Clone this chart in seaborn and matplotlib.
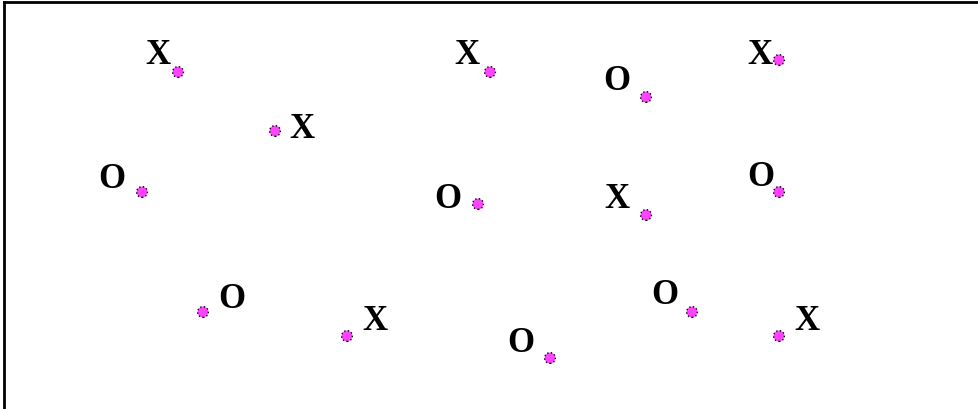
"""
Scatter of X/O labelled points on a plain canvas with a top/left frame.
"""

import matplotlib.pyplot as plt
import pandas as pd
import seaborn as sns

# Point positions (pixel-like units, y grows downward)
pt_x = [178, 490, 646, 779, 275, 142, 478, 646, 779, 203, 347, 550, 692, 779]
pt_y = [72, 72, 97, 60, 131, 192, 204, 215, 192, 312, 336, 358, 312, 336]
labels = ['X', 'X', 'O', 'X', 'X', 'O', 'O', 'X', 'O', 'O', 'X', 'O', 'O', 'X']

# label offsets from the point (pixels, screen direction)
label_dx = [-20, -23, -29, -19, 27, -30, -30, -29, -18, 29, 28, -29, -27, 28]
label_dy = [-17, -17, -16, -5, -1, -13, -5, -16, -15, -13, -15, -14, -16, -15]

W, H = 979, 409

sns.set_style('white')

df = pd.DataFrame({'x': pt_x, 'y': pt_y, 'label': labels})

fig = plt.figure(figsize=(W / 100, H / 100), dpi=100)
# frame visible only on top and left; the rest runs past the figure edge
left_px, top_px = 4, 2
ax = fig.add_axes([left_px / W, -0.1, 1.1, (H - top_px) / H + 0.1])
ax.set_xlim(left_px, left_px + 1.1 * W)
ax.set_ylim(H + 0.1 * H, top_px)

sns.scatterplot(data=df, x='x', y='y', color='#ff44ff', s=60,
                edgecolor='black', linewidth=1.0, linestyle=':', ax=ax,
                zorder=3)

for xi, yi, lab, dx, dy in zip(pt_x, pt_y, labels, label_dx, label_dy):
    ax.annotate(lab, (xi, yi), xytext=(dx * 0.72, -dy * 0.72),
                textcoords='offset points', ha='center', va='center',
                fontsize=25, fontweight='bold', family='Liberation Serif',
                color='black')

for side in ['top', 'left', 'right', 'bottom']:
    ax.spines[side].set_color('black')
    ax.spines[side].set_linewidth(2.0)
ax.set_xticks([])
ax.set_yticks([])
ax.set_xlabel('')
ax.set_ylabel('')

fig.savefig('out.png', dpi=100)
plt.close()
